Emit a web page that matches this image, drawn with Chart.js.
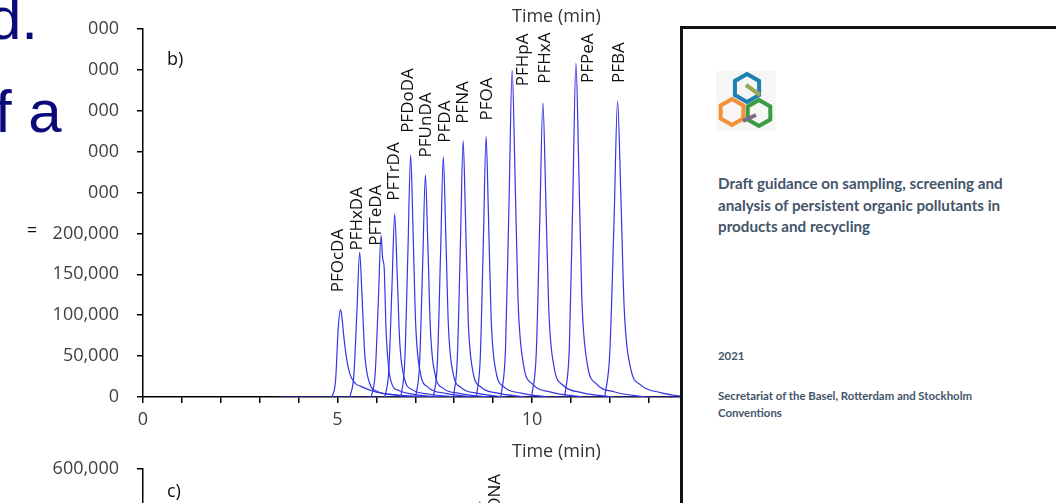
<!DOCTYPE html>
<html>
<head>
<meta charset="utf-8">
<script src="https://cdn.jsdelivr.net/npm/chart.js@4.4.1/dist/chart.umd.min.js"></script>
<style>
html,body{margin:0;padding:0;width:1056px;height:503px;overflow:hidden;background:#fff}
.abs{position:absolute}
.lbl{font-family:"Open Sans",sans-serif;font-size:18px;line-height:24px;color:#333;white-space:nowrap}
.slide{font-family:"Liberation Sans",Arial,sans-serif;font-size:60px;line-height:60px;color:#0a0a7a;white-space:nowrap}
#doc{left:680px;top:26px;width:380px;height:480px;background:#fff;border-top:3px solid #111;border-left:3px solid #111;box-sizing:border-box}
.docTitle{font-family:Lato,sans-serif;font-weight:bold;font-size:15.2px;line-height:21.5px;color:#44546a;white-space:nowrap}
.docSmall{font-family:Lato,sans-serif;font-weight:bold;font-size:11.4px;line-height:17px;color:#44546a;white-space:nowrap}
</style>
</head>
<body>
<canvas id="chartB" class="abs" width="950" height="470" style="left:0;top:0"></canvas>
<canvas id="chartC" class="abs" width="950" height="420" style="left:0;top:440px"></canvas>

<div class="abs lbl" style="left:512px;top:3px">Time (min)</div>
<div class="abs lbl" style="left:167px;top:46px;font-size:18px;color:#111">b)</div>
<div class="abs lbl" style="left:512px;top:438px">Time (min)</div>
<div class="abs lbl" style="left:167px;top:478px;font-size:18px;color:#111">c)</div>

<div class="abs" style="left:0;top:0;width:88px;height:214px;background:#fff"></div>
<div class="abs slide" style="left:-12px;top:-11px">d.</div>
<div class="abs slide" style="left:-5px;top:82px">f a</div>
<div class="abs" style="left:27px;top:220px;font-family:'Liberation Sans';font-size:17px;color:#111">=</div>

<div id="doc" class="abs">
  <svg class="abs" style="left:33px;top:42px" width="60" height="60" viewBox="0 0 60 60">
    <rect width="60" height="60" fill="#f6f6f4"/>
    <polygon points="31,3 43.1,10 43.1,24 31,31 18.9,24 18.9,10" fill="none" stroke="#1f7fae" stroke-width="4"/>
    <polygon points="16,28 27.3,34.5 27.3,47.5 16,54 4.7,47.5 4.7,34.5" fill="none" stroke="#f0913a" stroke-width="4"/>
    <polygon points="43,29 54.3,35.5 54.3,48.5 43,55 31.7,48.5 31.7,35.5" fill="none" stroke="#3c9a46" stroke-width="4"/>
    <line x1="30" y1="14" x2="44" y2="24" stroke="#9aa85a" stroke-width="4"/>
    <line x1="27" y1="50" x2="40" y2="44" stroke="#7c6a8a" stroke-width="4"/>
  </svg>
  <div class="abs docTitle" style="left:35px;top:144px">Draft guidance on sampling, screening and<br>analysis of persistent organic pollutants in<br>products and recycling</div>
  <div class="abs docSmall" style="left:35px;top:318px">2021</div>
  <div class="abs docSmall" style="left:35px;top:358px">Secretariat of the Basel, Rotterdam and Stockholm<br>Conventions</div>
</div>

<script>
// peaks of panel b, [time (min), intensity]
const peakNames=["PFOcDA","PFHxDA","PFTeDA","PFTrDA","PFDoDA","PFUnDA","PFDA","PFNA","PFOA","PFHpA","PFHxA","PFPeA","PFBA"]
const labelTimes=[5.01,5.50,5.99,6.45,6.81,7.28,7.76,8.23,8.84,9.77,10.33,11.44,12.24]
const labelBases=[128000,179000,185000,240000,323000,293000,311000,334000,338000,380000,383000,384000,384000]

const pfocda=[[4.86,0],[4.95,20000],[5.02,85000],[5.08,107000],[5.12,95000],[5.16,75000],[5.24,45000],[5.32,28000],[5.45,17000],[5.6,13000],[6.0,6000],[6.6,2000],[7.5,0]]
const pfhxda=[[5.32,0],[5.42,26500],[5.50,106000],[5.57,177000],[5.63,124000],[5.70,53000],[5.82,17700],[6.02,7000],[6.47,2600],[7.2,0]]
const pfteda=[[5.87,0],[5.97,29600],[6.05,118000],[6.12,197600],[6.16,170000],[6.20,158000],[6.25,80000],[6.37,20000],[6.57,8000],[7.0,3000],[7.7,0]]
const pftrda=[[6.22,0],[6.32,33600],[6.40,134400],[6.47,224000],[6.53,156800],[6.60,67200],[6.72,22400],[6.92,9000],[7.37,3400],[8.1,0]]
const pfdoda=[[6.63,0],[6.73,44400],[6.81,177600],[6.88,296000],[6.94,207200],[7.01,88800],[7.13,29600],[7.33,11800],[7.78,4400],[8.5,0]]
const pfunda=[[7.01,0],[7.11,40700],[7.19,163000],[7.26,271600],[7.32,190100],[7.39,81500],[7.51,27200],[7.71,10900],[8.16,4100],[8.9,0]]
const pfda=[[7.47,0],[7.57,44100],[7.65,176300],[7.72,293900],[7.78,205700],[7.85,88200],[7.97,29400],[8.17,11800],[8.62,4400],[9.3,0]]
const pfna=[[7.98,0],[8.08,47000],[8.16,188000],[8.23,313400],[8.29,219400],[8.36,94000],[8.48,31300],[8.68,12500],[9.13,4700],[9.8,0]]
const pfoa=[[8.57,0],[8.67,47800],[8.75,191200],[8.82,318700],[8.88,223100],[8.95,95600],[9.07,31900],[9.27,12700],[9.72,4800],[10.4,0]]
const pfhpa=[[9.20,0],[9.32,59900],[9.41,239800],[9.49,399600],[9.56,279700],[9.64,119900],[9.78,40000],[10.01,16000],[10.49,6000],[11.3,0]]
const pfhxa=[[9.99,0],[10.11,54000],[10.20,215900],[10.28,359800],[10.35,251900],[10.43,107900],[10.57,36000],[10.80,14400],[11.28,5400],[12.1,0]]
const pfpea=[[10.84,0],[10.96,61200],[11.05,244900],[11.13,408200],[11.20,285700],[11.28,122500],[11.42,40800],[11.65,16300],[12.13,6100],[12.9,0]]
const pfba=[[11.87,0],[12.00,54300],[12.11,217300],[12.20,362200],[12.28,253500],[12.37,108700],[12.53,36200],[12.80,14500],[13.3,5400],[14,0]]
const baseline=[[3.5,0],[20,0]]
const tracesB=[baseline,pfocda,pfhxda,pfteda,pftrda,pfdoda,pfunda,pfda,pfna,pfoa,pfhpa,pfhxa,pfpea,pfba]

// panel c (only the top is visible)
const adona=[[8.45,0],[8.56,90000],[8.63,420000],[8.66,545000],[8.69,430000],[8.75,150000],[8.85,30000],[9.0,8000],[9.4,0]]
const labelC={name:"ADONA",t:9.05,v:490000}

const lineBlue='#3535e6'
const tickFont={family:'Open Sans',size:18}

function toDataset(tr){
  return {data:tr.map(p=>({x:p[0],y:p[1]})),borderColor:lineBlue,borderWidth:1.2,pointRadius:0,fill:false,cubicInterpolationMode:'monotone'}
}

function axisX(h){
  return {type:'linear',min:0,max:20,afterFit:s=>{s.height=h},
    ticks:{stepSize:1,autoSkip:false,maxRotation:0,padding:6,color:'#404040',font:tickFont,callback:v=>v%5===0?v:''},
    grid:{drawOnChartArea:false,tickLength:6,color:'#000',lineWidth:1.5},
    border:{color:'#000',width:1.5}}
}
function axisY(max,step){
  return {min:0,max:max,afterFit:s=>{s.width=143},
    ticks:{stepSize:step,padding:18,color:'#404040',font:tickFont,callback:v=>v.toLocaleString('en-US')},
    grid:{drawOnChartArea:false,tickLength:6,color:'#000',lineWidth:1.5},
    border:{color:'#000',width:1.5}}
}

function rotLabel(ctx,text,x,y){
  ctx.save();ctx.translate(x,y);ctx.rotate(-Math.PI/2)
  ctx.fillText(text,0,0);ctx.restore()
}

const peakLabels={id:'peakLabels',afterDatasetsDraw(c){
  const {ctx,scales:{x,y}}=c
  ctx.save();ctx.font='17px "Open Sans"';ctx.fillStyle='#111';ctx.textAlign='left';ctx.textBaseline='middle'
  peakNames.forEach((n,i)=>rotLabel(ctx,n,x.getPixelForValue(labelTimes[i]),y.getPixelForValue(labelBases[i])))
  ctx.restore()
}}
const peakLabelC={id:'peakLabelC',afterDatasetsDraw(c){
  const {ctx,scales:{x,y}}=c
  ctx.save();ctx.font='17px "Open Sans"';ctx.fillStyle='#111';ctx.textAlign='left';ctx.textBaseline='middle'
  rotLabel(ctx,labelC.name,x.getPixelForValue(labelC.t),y.getPixelForValue(labelC.v))
  ctx.restore()
}}

function draw(){
new Chart(document.getElementById('chartB'),{
  type:'line',
  data:{datasets:tracesB.map(toDataset)},
  options:{responsive:false,animation:false,devicePixelRatio:1,
    layout:{padding:{top:29,right:29,left:0,bottom:0}},
    plugins:{legend:{display:false},tooltip:{enabled:false}},
    scales:{x:axisX(73),y:axisY(450000,50000)}},
  plugins:[peakLabels]
})
new Chart(document.getElementById('chartC'),{
  type:'line',
  data:{datasets:[toDataset(adona)]},
  options:{responsive:false,animation:false,devicePixelRatio:1,
    layout:{padding:{top:13,right:29,left:0,bottom:0}},
    plugins:{legend:{display:false},tooltip:{enabled:false}},
    scales:{x:axisX(37),y:axisY(600000,100000)}},
  plugins:[peakLabelC]
})
}
document.fonts.load('18px "Open Sans"').then(draw,draw)
</script>
</body>
</html>
